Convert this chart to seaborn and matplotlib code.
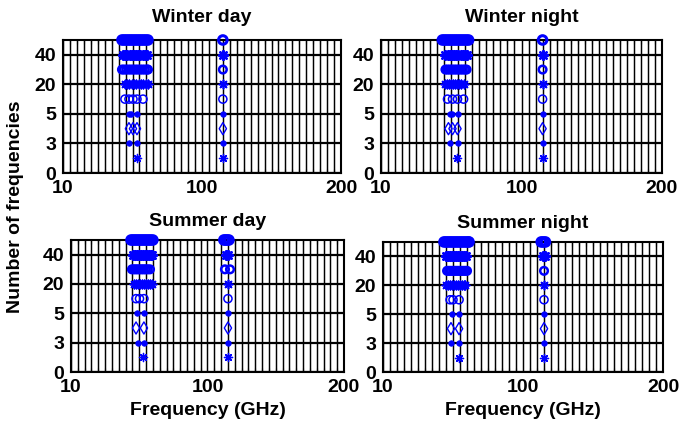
import numpy as np
import pandas as pd
import matplotlib
matplotlib.use("Agg")
import matplotlib.pyplot as plt
import seaborn as sns

# ---------------- data ----------------
panel_titles = ["Winter day", "Winter night", "Summer day", "Summer night"]
y_tick_values = [0, 3, 5, 20, 40]
x_tick_values = [10, 100, 200]

# number of frequencies (row) and selected frequency (GHz) for each panel
wd_n = [1, 1,
        3, 3, 3,
        4, 4, 4, 4,
        5, 5, 5, 5,
        10, 10, 10, 10, 10, 10,
        20, 20, 20, 20, 20, 20, 20, 20, 20, 20, 20, 20,
        30, 30, 30, 30, 30, 30, 30, 30, 30, 30, 30, 30, 30, 30,
        40, 40, 40, 40, 40, 40, 40, 40, 40, 40, 40, 40, 40,
        50, 50, 50, 50, 50, 50, 50, 50, 50, 50, 50, 50, 50, 50]
wd_f = [57.9, 115,
        52.7, 57.9, 115,
        52.7, 55.3, 57.9, 115,
        52.7, 54.0, 57.9, 115,
        50.1, 52.7, 55.3, 57.9, 61.8, 115,
        50.1, 51.5, 53.0, 54.5, 56.0, 57.5, 59.0, 60.5, 62.0, 63.5, 65.0, 115,
        48.2, 49.5, 51.0, 52.5, 54.0, 55.5, 57.0, 58.5, 60.0, 61.5, 63.0, 64.5, 65.0, 115,
        48.9, 50.3, 51.7, 53.1, 54.5, 55.9, 57.3, 58.7, 60.1, 61.5, 62.9, 64.4, 115,
        48.2, 49.6, 51.0, 52.4, 53.8, 55.2, 56.6, 58.0, 59.4, 60.8, 62.2, 63.6, 65.0, 115]

wn_n = [1, 1,
        3, 3, 3,
        4, 4, 4, 4,
        5, 5, 5, 5,
        10, 10, 10, 10, 10,
        20, 20, 20, 20, 20, 20, 20, 20, 20, 20, 20,
        30, 30, 30, 30, 30, 30, 30, 30, 30, 30, 30, 30,
        40, 40, 40, 40, 40, 40, 40, 40, 40, 40, 40, 40,
        50, 50, 50, 50, 50, 50, 50, 50, 50, 50, 50, 50, 50, 50]
wn_f = [58.4, 115,
        53.9, 59.0, 115,
        53.2, 55.8, 59.0, 115,
        53.9, 55.5, 59.0, 115,
        52.6, 55.8, 59.0, 62.9, 115,
        51.3, 52.5, 53.8, 55.0, 56.3, 57.5, 58.8, 60.0, 61.3, 62.9, 115,
        51.3, 52.6, 54.0, 55.4, 56.8, 58.2, 59.6, 61.0, 62.4, 63.8, 64.8, 115,
        51.3, 52.6, 54.0, 55.4, 56.8, 58.2, 59.6, 61.0, 62.4, 63.8, 64.8, 115,
        49.3, 50.7, 52.1, 53.5, 54.9, 56.3, 57.7, 59.1, 60.5, 61.9, 63.3, 64.7, 66.1, 115]

sd_n = [1, 1,
        3, 3, 3,
        4, 4, 4,
        5, 5, 5,
        10, 10, 10, 10,
        20, 20, 20, 20, 20, 20, 20, 20, 20, 20, 20,
        30, 30, 30, 30, 30, 30, 30, 30, 30, 30, 30, 30,
        40, 40, 40, 40, 40, 40, 40, 40, 40, 40, 40, 40, 40,
        50, 50, 50, 50, 50, 50, 50, 50, 50, 50, 50, 50, 50, 50, 50, 50]
sd_f = [57.5, 115,
        54.1, 58.1, 115,
        52.9, 58.1, 115,
        53.5, 58.1, 115,
        52.9, 55.2, 58.1, 115,
        51.5, 52.8, 54.1, 55.4, 56.7, 58.0, 59.3, 60.6, 61.9, 63.4, 114.8,
        50.2, 51.5, 52.8, 54.1, 55.4, 56.7, 58.0, 59.3, 60.6, 62.1, 112.8, 116.5,
        50.9, 52.2, 53.5, 54.8, 56.1, 57.4, 58.7, 60.0, 61.3, 62.6, 63.4, 113.5, 115,
        49.6, 50.9, 52.2, 53.5, 54.8, 56.1, 57.4, 58.7, 60.0, 61.3, 62.6, 64.0, 112, 113.2, 114.4, 115.7]

sn_n = [1, 1,
        3, 3, 3,
        4, 4, 4,
        5, 5, 5,
        10, 10, 10, 10,
        20, 20, 20, 20, 20, 20, 20, 20, 20, 20, 20, 20,
        30, 30, 30, 30, 30, 30, 30, 30, 30, 30, 30, 30,
        40, 40, 40, 40, 40, 40, 40, 40, 40, 40, 40, 40, 40,
        50, 50, 50, 50, 50, 50, 50, 50, 50, 50, 50, 50, 50, 50, 50, 50, 50]
sn_f = [58.9, 115,
        53.7, 58.9, 115,
        53.7, 58.9, 115,
        54.4, 58.9, 115,
        53.1, 55.0, 58.9, 115,
        50.5, 51.8, 53.1, 54.4, 55.7, 57.0, 58.3, 59.6, 60.9, 62.2, 62.7, 115,
        51.2, 52.5, 53.8, 55.1, 56.4, 57.7, 59.0, 60.3, 61.6, 62.9, 64.0, 115,
        50.5, 51.8, 53.1, 54.4, 55.7, 57.0, 58.3, 59.6, 60.9, 62.2, 63.4, 114, 115.5,
        49.2, 50.5, 51.8, 53.1, 54.4, 55.7, 57.0, 58.3, 59.6, 60.9, 62.2, 63.5, 64.8, 65.3, 113, 114.5, 116]

panels_n = [wd_n, wn_n, sd_n, sn_n]
panels_f = [wd_f, wn_f, sd_f, sn_f]

# ---------------- styling ----------------
sns.set_style("white")
plt.rcParams["font.family"] = ["Liberation Sans", "DejaVu Sans"]
plt.rcParams["font.weight"] = "bold"
for key in ["text.color", "axes.labelcolor", "xtick.color", "ytick.color"]:
    plt.rcParams[key] = "black"

BLUE = "#0000ff"
# marker style per row (number of frequencies)
row_style = {
    1: dict(marker=(8, 2, 0), s=34, facecolor=BLUE, linewidth=1.0),
    3: dict(marker="o", s=16, facecolor=BLUE, linewidth=0.5),
    4: dict(marker="d", s=38, facecolor="none", linewidth=1.0),
    5: dict(marker="o", s=16, facecolor=BLUE, linewidth=0.5),
    10: dict(marker="o", s=34, facecolor="none", linewidth=1.1),
    20: dict(marker=(8, 2, 0), s=36, facecolor=BLUE, linewidth=1.2),
    30: dict(marker="o", s=30, facecolor="none", linewidth=1.8),
    40: dict(marker=(8, 2, 0), s=40, facecolor=BLUE, linewidth=1.7),
    50: dict(marker="o", s=38, facecolor="none", linewidth=2.2),
}

# axis scales (piecewise)
xp_f = [10, 100, 200]
xp_p = [0, 1, 2]
yp_n = [0, 1, 3, 4, 5, 10, 20, 30, 40, 50]
yp_p = [0, 0.5, 1, 1.5, 2, 2.5, 3, 3.5, 4, 4.5]

def xfwd(v):
    return np.interp(v, xp_f, xp_p)

def xinv(p):
    return np.interp(p, xp_p, xp_f)

def yfwd(v):
    return np.interp(v, yp_n, yp_p)

def yinv(p):
    return np.interp(p, yp_p, yp_n)

fig = plt.figure(figsize=(6.87, 4.25), dpi=100)
rects = [
    [0.0917, 0.5929, 0.4047, 0.3130],
    [0.5546, 0.5929, 0.4090, 0.3130],
    [0.1033, 0.1247, 0.3974, 0.3106],
    [0.5575, 0.1247, 0.4076, 0.3060],
]

grid_pos = np.round(np.arange(0.05, 2.0, 0.05), 4)

for i, rect in enumerate(rects):
    ax = fig.add_axes(rect)
    ax.set_xscale("function", functions=(xfwd, xinv))
    ax.set_yscale("function", functions=(yfwd, yinv))
    ax.set_xlim(10, 200)
    ax.set_ylim(0, 50)
    ax.set_axisbelow(True)

    df = pd.DataFrame({"n": panels_n[i], "f": panels_f[i]})
    for n, st in row_style.items():
        sub = df[df["n"] == n]
        if sub.empty:
            continue
        sns.scatterplot(data=sub, x="f", y="n", ax=ax, marker=st["marker"],
                        s=st["s"], color=BLUE, facecolor=st["facecolor"],
                        edgecolor=BLUE, linewidth=st["linewidth"],
                        clip_on=False, zorder=5, legend=False)

    ax.set_xticks(x_tick_values)
    ax.set_xticklabels([str(v) for v in x_tick_values])
    ax.set_xticks(xinv(grid_pos), minor=True)
    ax.set_yticks(y_tick_values)
    ax.set_yticklabels([str(v) for v in y_tick_values])

    ax.xaxis.grid(True, which="both", color="black", linewidth=1.05)
    ax.yaxis.grid(True, which="major", color="black", linewidth=1.6)
    ax.tick_params(axis="both", which="major", labelsize=14, length=0, pad=5,
                   colors="black")
    ax.tick_params(axis="x", which="minor", direction="in", length=3,
                   top=True, bottom=True, width=0.8)
    for lab in ax.get_xticklabels() + ax.get_yticklabels():
        lab.set_fontweight("bold")
    for sp in ax.spines.values():
        sp.set_visible(True)
        sp.set_color("black")
        sp.set_linewidth(1.5)

    ax.set_xlabel("")
    ax.set_ylabel("")
    ax.set_title(panel_titles[i], fontsize=14, fontweight="bold",
                 pad=13 if i < 2 else 10, color="black")
    if i >= 2:
        ax.set_xlabel("Frequency (GHz)", fontsize=14, fontweight="bold",
                      labelpad=4, color="black")

fig.text(0.022, 0.513, "Number of frequencies", rotation=90, ha="center",
         va="center", fontsize=14, fontweight="bold", color="black")

fig.savefig("out.png", dpi=100)
